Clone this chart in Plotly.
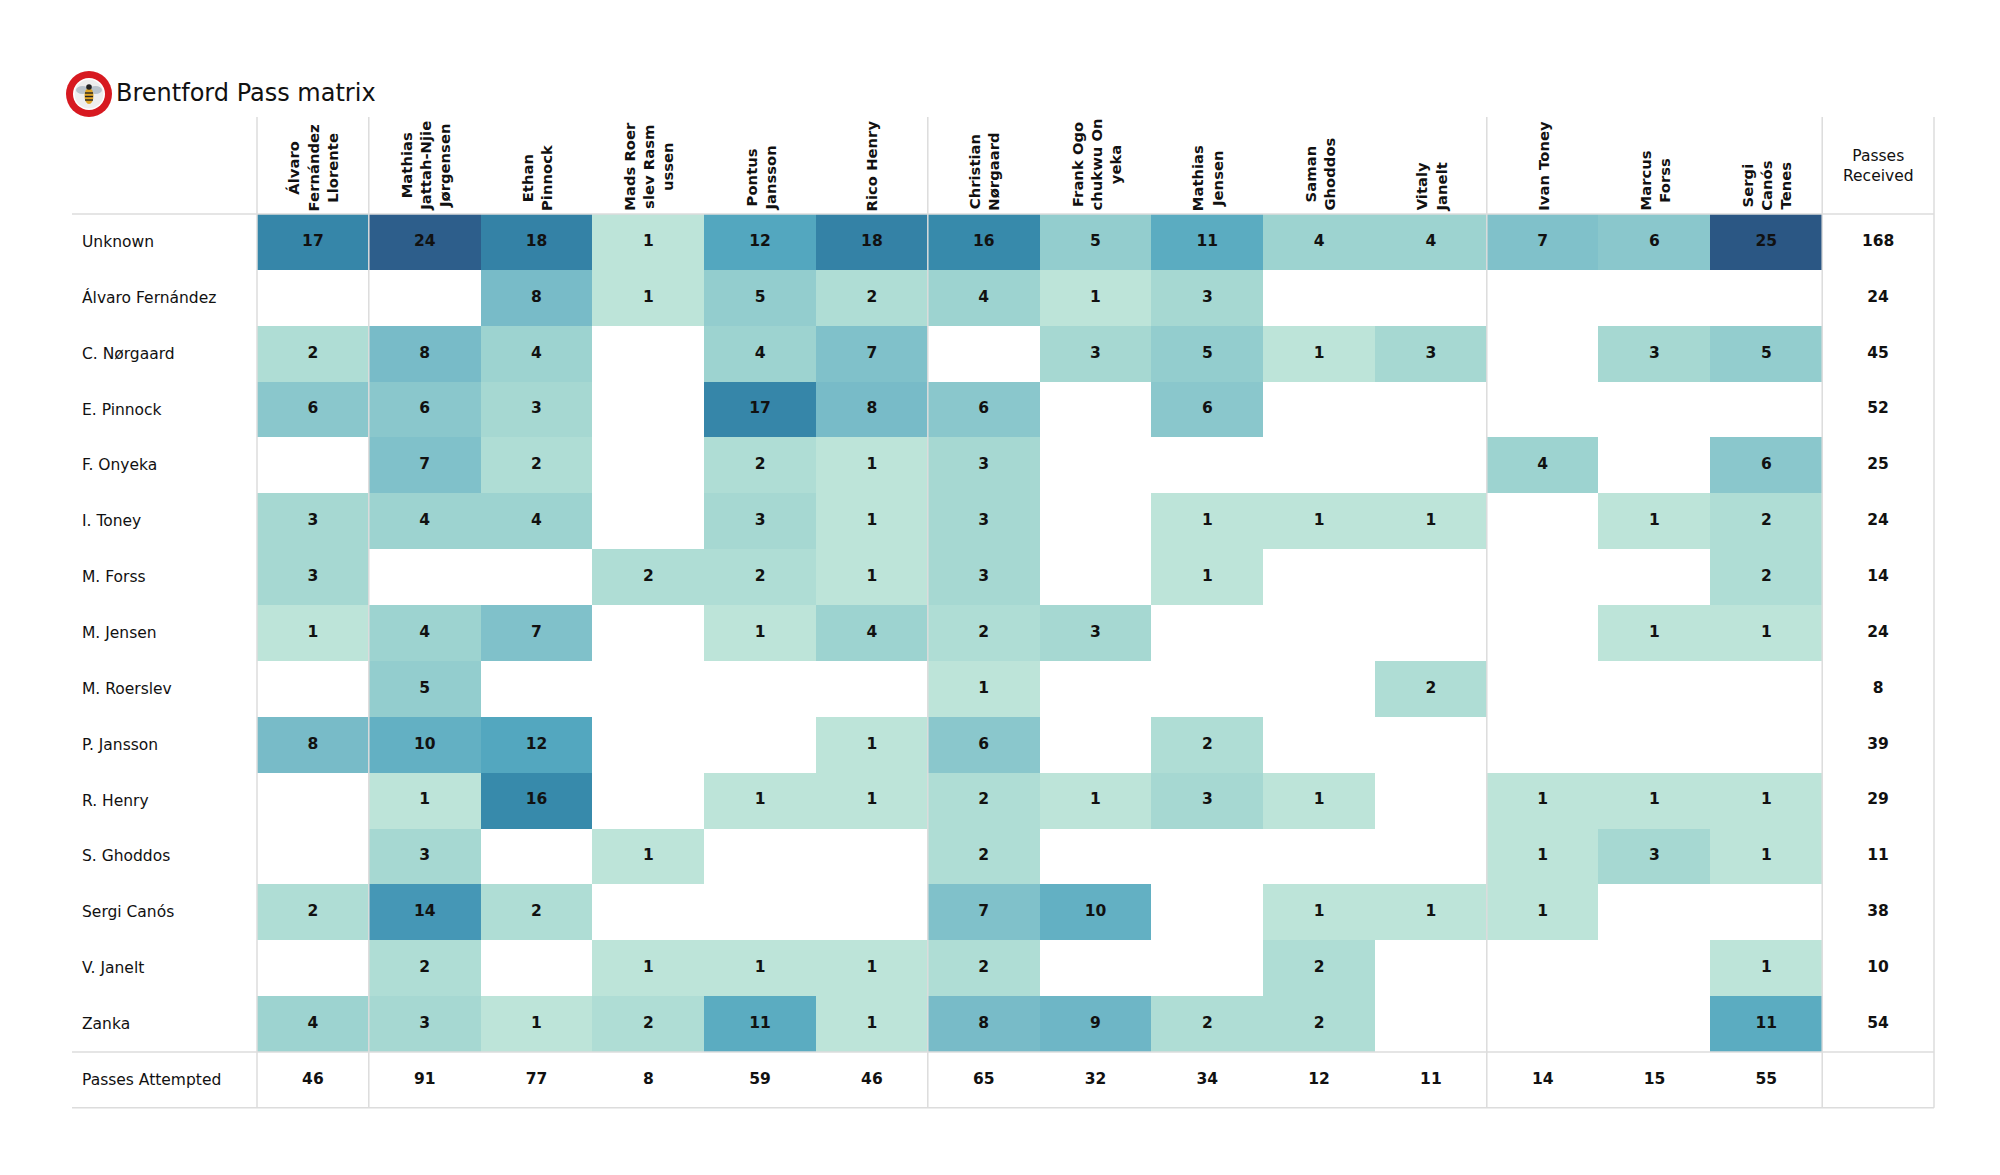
import plotly.graph_objects as go

# ---------------- data ----------------
title_text = "Brentford Pass matrix"

col_labels = [
    "Álvaro<br>Fernández<br>Llorente",
    "Mathias<br>Jattah-Njie<br>Jørgensen",
    "Ethan<br>Pinnock",
    "Mads Roer<br>slev Rasm<br>ussen",
    "Pontus<br>Jansson",
    "Rico Henry",
    "Christian<br>Nørgaard",
    "Frank Ogo<br>chukwu On<br>yeka",
    "Mathias<br>Jensen",
    "Saman<br>Ghoddos",
    "Vitaly<br>Janelt",
    "Ivan Toney",
    "Marcus<br>Forss",
    "Sergi<br>Canós<br>Tenes",
]

row_labels = [
    "Unknown", "Álvaro Fernández", "C. Nørgaard", "E. Pinnock", "F. Onyeka",
    "I. Toney", "M. Forss", "M. Jensen", "M. Roerslev", "P. Jansson",
    "R. Henry", "S. Ghoddos", "Sergi Canós", "V. Janelt", "Zanka",
]

N = None
pass_counts = [
    [17, 24, 18, 1, 12, 18, 16, 5, 11, 4, 4, 7, 6, 25],
    [N, N, 8, 1, 5, 2, 4, 1, 3, N, N, N, N, N],
    [2, 8, 4, N, 4, 7, N, 3, 5, 1, 3, N, 3, 5],
    [6, 6, 3, N, 17, 8, 6, N, 6, N, N, N, N, N],
    [N, 7, 2, N, 2, 1, 3, N, N, N, N, 4, N, 6],
    [3, 4, 4, N, 3, 1, 3, N, 1, 1, 1, N, 1, 2],
    [3, N, N, 2, 2, 1, 3, N, 1, N, N, N, N, 2],
    [1, 4, 7, N, 1, 4, 2, 3, N, N, N, N, 1, 1],
    [N, 5, N, N, N, N, 1, N, N, N, 2, N, N, N],
    [8, 10, 12, N, N, 1, 6, N, 2, N, N, N, N, N],
    [N, 1, 16, N, 1, 1, 2, 1, 3, 1, N, 1, 1, 1],
    [N, 3, N, 1, N, N, 2, N, N, N, N, 1, 3, 1],
    [2, 14, 2, N, N, N, 7, 10, N, 1, 1, 1, N, N],
    [N, 2, N, 1, 1, 1, 2, N, N, 2, N, N, N, 1],
    [4, 3, 1, 2, 11, 1, 8, 9, 2, 2, N, N, N, 11],
]

passes_received = [168, 24, 45, 52, 25, 24, 14, 24, 8, 39, 29, 11, 38, 10, 54]
passes_attempted = [46, 91, 77, 8, 59, 46, 65, 32, 34, 12, 11, 14, 15, 55]
received_header = "Passes<br>Received"
attempted_label = "Passes Attempted"

# ---------------- layout geometry (screen pixels) ----------------
OFF = 8  # page body margin
FIG_W, FIG_H = 2000 - 2 * OFF, 1175 - 2 * OFF
LEFT, RIGHT = 257.0, 1934.0
HDR_TOP, TOP, MAT_BOTTOM = 117.0, 214.0, 1052.0
TABLE_LEFT = 72.0
ncol = len(col_labels) + 1
nrow = len(row_labels)
CW = (RIGHT - LEFT) / ncol
RH = (MAT_BOTTOM - TOP) / nrow


def dx(p):
    return -0.5 + (p - LEFT) / CW


def dy(p):
    return -0.5 + (p - TOP) / RH


def px(p):
    return (p - OFF) / FIG_W


def py(p):
    return 1 - (p - OFF) / FIG_H


FONT = "DejaVu Sans"

color_stops = [
    (1, "#bde4d9"), (2, "#afddd5"), (3, "#a6d8d2"), (4, "#9dd3d0"),
    (5, "#93cdce"), (6, "#8ac7cc"), (7, "#80c1ca"), (8, "#78bbc8"),
    (10, "#63b0c3"), (12, "#53a7bf"), (14, "#4597b6"), (16, "#378aab"),
    (18, "#3482a6"), (24, "#2d5e8b"), (25, "#2b5784"),
]
zmin, zmax = color_stops[0][0], color_stops[-1][0]
colorscale = [[(v - zmin) / (zmax - zmin), c] for v, c in color_stops]

fig = go.Figure()

fig.add_trace(go.Heatmap(
    z=pass_counts,
    x=list(range(len(col_labels))),
    y=list(range(nrow)),
    colorscale=colorscale, zmin=zmin, zmax=zmax,
    showscale=False, hoverinfo="skip", xgap=0, ygap=0,
))

NUM_FONT = dict(family=FONT, size=15.5, color="#111111")

# cell numbers
tx, ty, tt = [], [], []
for r, row in enumerate(pass_counts):
    for c, v in enumerate(row):
        if v is not None:
            tx.append(c)
            ty.append(r)
            tt.append(f"<b>{v}</b>")
fig.add_trace(go.Scatter(x=tx, y=ty, text=tt, mode="text", hoverinfo="skip",
                         textfont=NUM_FONT))

# passes received column
rc = len(col_labels)
fig.add_trace(go.Scatter(
    x=[rc] * nrow, y=list(range(nrow)),
    text=[f"<b>{v}</b>" for v in passes_received], mode="text", hoverinfo="skip",
    textfont=NUM_FONT,
))

# passes attempted row
fig.add_trace(go.Scatter(
    x=list(range(len(col_labels))), y=[nrow] * len(col_labels),
    text=[f"<b>{v}</b>" for v in passes_attempted], mode="text", hoverinfo="skip",
    textfont=NUM_FONT,
))

annotations = []
# column headers (rotated)
for c, lab in enumerate(col_labels):
    annotations.append(dict(
        x=c, y=dy(213), xref="x", yref="y", text=f"<b>{lab}</b>",
        textangle=-90, xanchor="center", yanchor="bottom", showarrow=False,
        align="center", font=dict(family=FONT, size=14.8, color="#111111"),
    ))
annotations.append(dict(
    x=rc, y=dy((HDR_TOP + TOP) / 2), xref="x", yref="y", text=received_header,
    xanchor="center", yanchor="middle", showarrow=False, align="center",
    font=dict(family=FONT, size=15.5, color="#111111"),
))
# row labels
for r, lab in enumerate(row_labels + [attempted_label]):
    annotations.append(dict(
        x=dx(80), y=r, xref="x", yref="y", text=lab,
        xanchor="left", yanchor="middle", showarrow=False,
        font=dict(family=FONT, size=15.5, color="#111111"),
    ))
# title
annotations.append(dict(
    x=px(114), y=py(93), xref="paper", yref="paper", text=title_text,
    xanchor="left", yanchor="middle", showarrow=False,
    font=dict(family=FONT, size=24, color="#111111"),
))

shapes = []
GRID = "#dcdcdc"
for b in [-0.5, 0.5, 5.5, 10.5, 13.5, 14.5]:
    shapes.append(dict(type="line", xref="x", yref="y", x0=b, x1=b,
                       y0=dy(HDR_TOP), y1=nrow + 0.5,
                       line=dict(color=GRID, width=1.5), layer="above"))
for b in [-0.5, nrow - 0.5, nrow + 0.5]:
    shapes.append(dict(type="line", xref="x", yref="y", x0=dx(TABLE_LEFT), x1=ncol - 0.5,
                       y0=b, y1=b, line=dict(color=GRID, width=1.5), layer="above"))

# simplified club badge
cx, cy = 89, 94


def ell(rx, ry, fill, dxp=0, dyp=0):
    return dict(type="circle", xref="paper", yref="paper",
                x0=px(cx + dxp - rx), x1=px(cx + dxp + rx),
                y0=py(cy + dyp + ry), y1=py(cy + dyp - ry),
                fillcolor=fill, line=dict(color=fill, width=0), layer="above")


shapes += [
    ell(23, 23, "#d71920"),
    ell(16, 16, "#ffffff"),
    ell(14.5, 14.5, "#eeeeee"),
    ell(6.5, 4, "#b9c3cc", dxp=-6.5, dyp=-4),
    ell(6.5, 4, "#b9c3cc", dxp=6.5, dyp=-4),
    ell(4.5, 8, "#e0a526", dyp=2),
    ell(2.8, 2.8, "#222222", dyp=-7),
]
for yy in [-1, 2.5, 6]:
    shapes.append(dict(type="line", xref="paper", yref="paper",
                       x0=px(cx - 4), x1=px(cx + 4), y0=py(cy + yy), y1=py(cy + yy),
                       line=dict(color="#222222", width=1.4), layer="above"))

fig.update_layout(
    width=FIG_W, height=FIG_H,
    margin=dict(l=0, r=0, t=0, b=0, pad=0),
    paper_bgcolor="white", plot_bgcolor="white",
    xaxis=dict(range=[dx(OFF), dx(OFF + FIG_W)], visible=False, fixedrange=True),
    yaxis=dict(range=[dy(OFF + FIG_H), dy(OFF)], visible=False, fixedrange=True),
    showlegend=False,
    annotations=annotations,
    shapes=shapes,
    font=dict(family=FONT),
)

fig.write_html("out.html")
